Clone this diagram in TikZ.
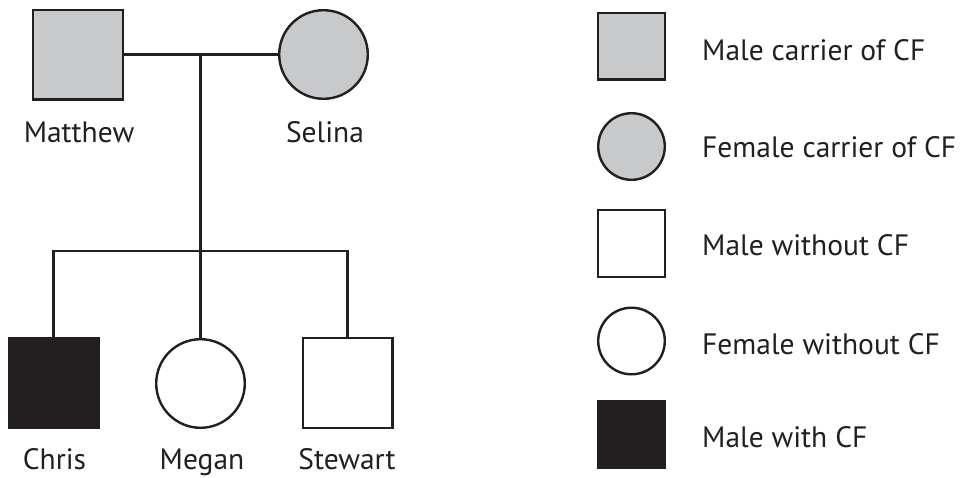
\documentclass[tikz,border=0pt]{standalone}
\usepackage{fontspec}
\setmainfont{PT Sans}
\definecolor{carrier}{HTML}{C8C9CB}
\definecolor{affected}{HTML}{231F20}
\definecolor{ink}{HTML}{231F20}
\begin{document}
\begin{tikzpicture}[x=1pt,y=-1pt,
  line width=2.4pt,
  male/.style={draw=ink,rectangle,inner sep=0pt,outer sep=0pt,minimum size=89.6pt},
  female/.style={draw=ink,circle,inner sep=0pt,outer sep=0pt,minimum size=88.6pt},
  lmale/.style={draw=ink,rectangle,inner sep=0pt,outer sep=0pt,minimum size=66.6pt},
  lfemale/.style={draw=ink,circle,inner sep=0pt,outer sep=0pt,minimum size=66.6pt},
  lbl/.style={font=\fontsize{29.5}{34}\selectfont,text=ink,inner sep=0pt,anchor=base},
  leg/.style={font=\fontsize{29.5}{34}\selectfont,text=ink,inner sep=0pt,anchor=base west},
  conn/.style={draw=ink,line width=2.4pt}]
\useasboundingbox (0,0) rectangle (967,477);
% pedigree
\node[male,fill=carrier] (matthew) at (78,54.5) {};
\node[female,fill=carrier] (selina) at (323.5,54.5) {};
\node[male,fill=affected] (chris) at (53.5,383) {};
\node[female,fill=white] (megan) at (200.5,383.5) {};
\node[male,fill=white] (stewart) at (347.5,383) {};
\node[lbl] (tmatthew) at (79,142) {Matthew};
\node[lbl] (tselina) at (325,142) {Selina};
\node[lbl] (tchris) at (54.5,469.5) {Chris};
\node[lbl] (tmegan) at (202,469.5) {Megan};
\node[lbl] (tstewart) at (347,469.5) {Stewart};
\coordinate (mid) at (200.5,54.5);
\coordinate (sib) at (200.5,251);
\draw[conn] (matthew.east) -- (selina.west);
\draw[conn] (mid) -- (megan.north);
\draw[conn] (chris.north) -- (sib -| chris.north) -- (sib -| stewart.north) -- (stewart.north);
% legend
\node[lmale,fill=carrier] (l1) at (631.5,46) {};
\node[lfemale,fill=carrier] (l2) at (631.5,146.5) {};
\node[lmale,fill=white] (l3) at (631.5,243.5) {};
\node[lfemale,fill=white] (l4) at (631.5,341) {};
\node[lmale,fill=affected] (l5) at (631.5,434.5) {};
\node[leg] (t1) at (701,60) {Male carrier of CF};
\node[leg] (t2) at (701,157) {Female carrier of CF};
\node[leg] (t3) at (701,255) {Male without CF};
\node[leg] (t4) at (701,354) {Female without CF};
\node[leg] (t5) at (701,447) {Male with CF};
\end{tikzpicture}
\end{document}
